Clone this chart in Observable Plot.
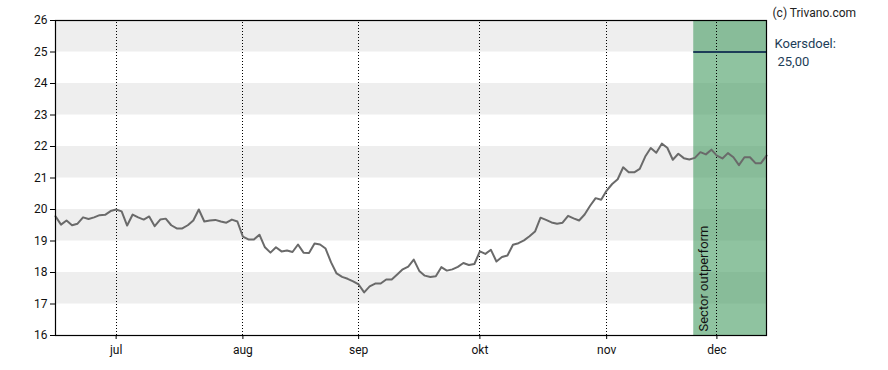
<!DOCTYPE html>
<html>
<head>
<meta charset="utf-8">
<script src="https://cdn.jsdelivr.net/npm/d3@7"></script>
<script src="https://cdn.jsdelivr.net/npm/@observablehq/plot@0.6"></script>
<style>
  html, body { margin: 0; padding: 0; background: #fff; }
  #chart { width: 888px; height: 370px; }
</style>
</head>
<body>
<div id="chart"></div>
<script>
// Closing prices, one per trading day (index 0..129)
const prices = [
  19.78, 19.52, 19.65, 19.50, 19.55, 19.75, 19.70, 19.75, 19.82, 19.83,
  19.95, 20.00, 19.94, 19.49, 19.84, 19.75, 19.68, 19.78, 19.47, 19.68,
  19.71, 19.50, 19.40, 19.40, 19.50, 19.65, 20.00, 19.62, 19.65, 19.67,
  19.62, 19.58, 19.68, 19.62, 19.14, 19.05, 19.05, 19.20, 18.80, 18.63,
  18.80, 18.67, 18.70, 18.65, 18.89, 18.63, 18.62, 18.92, 18.89, 18.76,
  18.32, 17.97, 17.86, 17.80, 17.72, 17.62, 17.37, 17.56, 17.65, 17.65,
  17.78, 17.78, 17.94, 18.10, 18.19, 18.41, 18.05, 17.90, 17.86, 17.88,
  18.17, 18.06, 18.10, 18.18, 18.30, 18.24, 18.27, 18.67, 18.59, 18.72,
  18.35, 18.49, 18.54, 18.88, 18.93, 19.02, 19.15, 19.30, 19.74, 19.67,
  19.59, 19.55, 19.58, 19.80, 19.72, 19.65, 19.84, 20.12, 20.36, 20.31,
  20.60, 20.81, 20.96, 21.34, 21.18, 21.18, 21.29, 21.68, 21.95, 21.80,
  22.09, 21.96, 21.58, 21.77, 21.63, 21.59, 21.64, 21.82, 21.75, 21.90,
  21.71, 21.62, 21.79, 21.66, 21.41, 21.66, 21.66, 21.47, 21.47, 21.71
];

// Month ticks (trading-day index) and labels
const monthTickIndex = [11, 34, 55, 77, 100, 120];
const monthTickLabels = ["jul", "aug", "sep", "okt", "nov", "dec"];

// Y ticks and alternating shaded bands
const yTicks = [16, 17, 18, 19, 20, 21, 22, 23, 24, 25, 26];
const bandLows = [17, 19, 21, 23, 25];

// Analyst rating period and price target
const ratingStart = 115.8;
const ratingLabel = "Sector outperform";
const targetPrice = 25.0;
const targetLabel = "Koersdoel:";
const targetText = "25,00";
const copyright = "(c) Trivano.com";

const lastIndex = prices.length - 1;
const series = prices.map((v, i) => ({i, v}));
const bands = bandLows.map(lo => ({lo, hi: lo + 1}));
const months = monthTickIndex.map((i, k) => ({i, label: monthTickLabels[k]}));

const chart = Plot.plot({
  width: 888,
  height: 370,
  marginLeft: 55,
  marginRight: 122,
  marginTop: 20,
  marginBottom: 35,
  style: {fontFamily: "Roboto, sans-serif", fontSize: "12px", color: "#222", background: "#fff"},
  x: {domain: [0, lastIndex], axis: null, label: null},
  y: {domain: [16, 26], axis: null, label: null},
  marks: [
    Plot.rectY(bands, {x1: 0, x2: lastIndex, y1: "lo", y2: "hi", fill: "#eeeeee"}),
    Plot.rectY([ratingStart], {x1: d => d, x2: lastIndex, y1: 16, y2: 26, fill: "rgb(62,152,92)", fillOpacity: 0.58}),
    Plot.ruleX(months, {x: "i", y1: 16, y2: 26, stroke: "#000", strokeWidth: 1, strokeDasharray: "1,2", shapeRendering: "crispEdges"}),
    Plot.line(series, {x: "i", y: "v", stroke: "#6a6a6a", strokeWidth: 2}),
    Plot.ruleY([targetPrice], {x1: ratingStart, x2: lastIndex, stroke: "#1d3d58", strokeWidth: 2}),
    Plot.text([ratingLabel], {x: ratingStart, y: 16, text: d => d, rotate: -90, textAnchor: "start", dx: 10, dy: -4, fill: "#111", fontSize: 13}),
    Plot.frame({stroke: "#000", strokeWidth: 1.2}),
    Plot.axisY(yTicks, {anchor: "left", label: null, tickSize: 5, tickPadding: 3, tickFormat: d => String(d), fill: "#111", stroke: "#000", fontSize: 12}),
    Plot.axisX(months.map(d => d.i), {anchor: "bottom", label: null, tickSize: 4, tickPadding: 6, tickFormat: (d, k) => monthTickLabels[k], fill: "#111", stroke: "#000", fontSize: 12}),
    Plot.text([copyright], {frameAnchor: "top-right", text: d => d, textAnchor: "start", dx: 6, dy: -12, fill: "#222", fontSize: 12}),
    Plot.text([targetLabel], {x: lastIndex, y: targetPrice, text: d => d, textAnchor: "start", dx: 8, dy: -8, fill: "#1d3d58", fontSize: 13}),
    Plot.text([targetText], {x: lastIndex, y: targetPrice, text: d => d, textAnchor: "start", dx: 11, dy: 10, fill: "#1d3d58", fontSize: 13})
  ]
});
document.getElementById("chart").appendChild(chart);
</script>
</body>
</html>
